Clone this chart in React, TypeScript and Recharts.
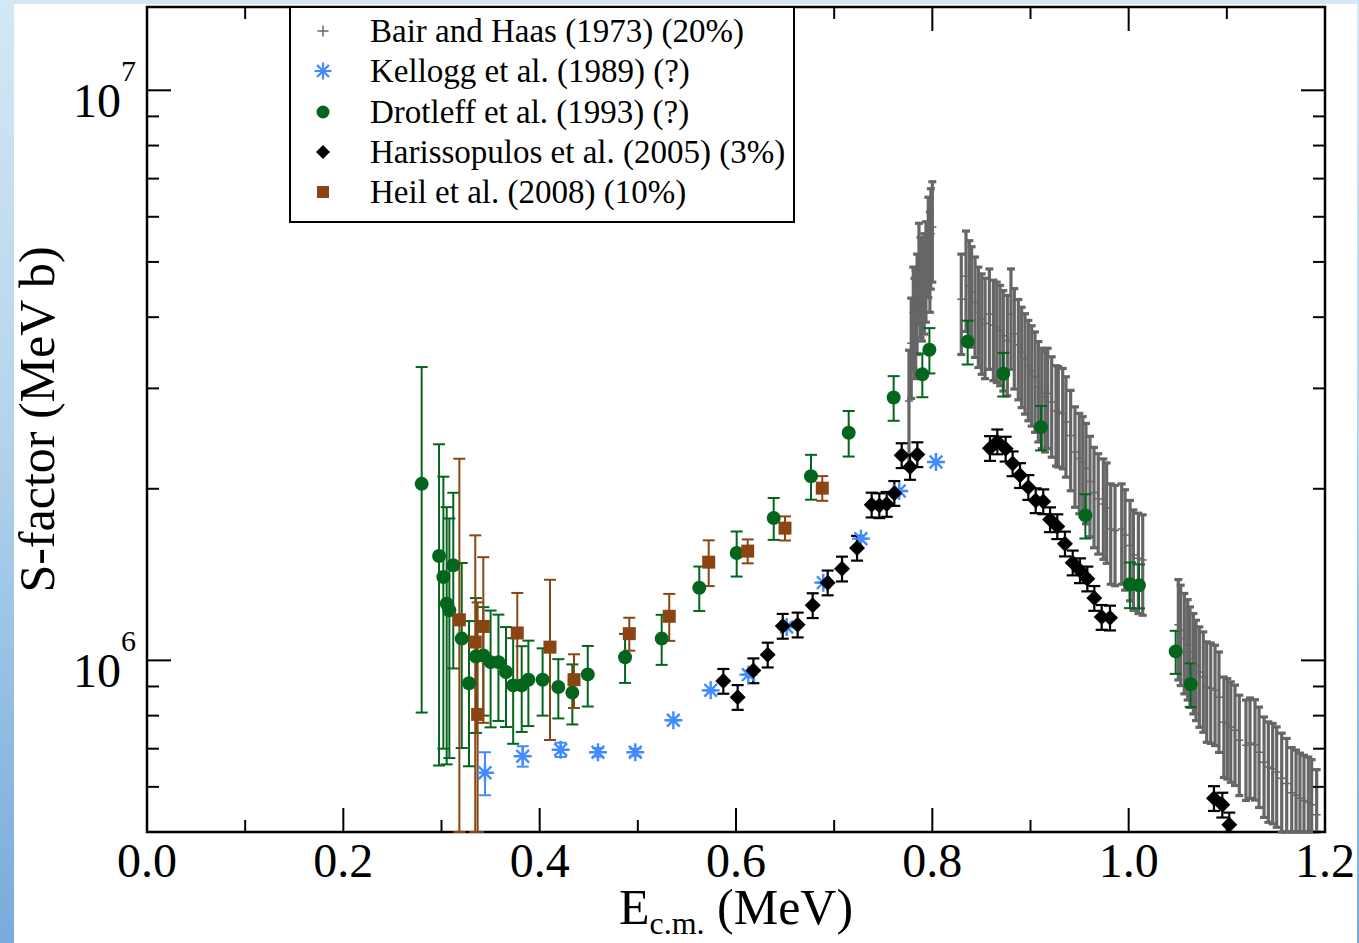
import React from 'react';
import { ScatterChart, Scatter, XAxis, YAxis, ErrorBar, ReferenceArea, Label } from 'recharts';

// ---------------- data ----------------
// Bair and Haas (1973), 20% uncertainty
const bairE = [
  0.7785, 0.7806, 0.7818, 0.783, 0.7845, 0.7864, 0.788, 0.7895, 0.7918, 0.7935, 0.7959, 0.7975, 0.7985, 0.8,
  0.8295, 0.8343, 0.8377, 0.84, 0.8435, 0.8469, 0.8503, 0.8537, 0.8581, 0.8622, 0.8656, 0.869, 0.8723, 0.8764,
  0.8801, 0.8835, 0.8876, 0.891, 0.8944, 0.8978, 0.9012, 0.9046, 0.908, 0.9114, 0.9148, 0.9175, 0.9216, 0.926,
  0.9283, 0.9328, 0.9361, 0.9409, 0.9453, 0.9497, 0.9532, 0.9565, 0.9606, 0.9647, 0.969, 0.9742, 0.9776, 0.9817,
  0.9861, 0.9929, 0.9963, 1.0014, 1.0048, 1.0099, 1.0143,
  1.0506, 1.053, 1.0567, 1.0601, 1.0625, 1.0659, 1.0686, 1.072, 1.076, 1.0795, 1.0836, 1.088, 1.092, 1.097,
  1.1005, 1.104, 1.1083, 1.1127, 1.1195, 1.1236, 1.1287, 1.1328, 1.1379, 1.1423, 1.1467, 1.1508, 1.1559, 1.161,
  1.1661, 1.1705, 1.1745, 1.1786, 1.183, 1.1864, 1.1915,
];
const bairS = [
  3.6e6, 4.08e6, 3.9e6, 4.03e6, 4.3e6, 4.87e6, 4.6e6, 4.54e6, 4.67e6, 4.9e6, 5.41e6, 5.1e6, 5.6e6, 5.76e6,
  4.3e6, 4.72e6, 4.54e6, 4.43e6, 4.25e6, 4.08e6, 3.97e6, 3.9e6, 4.05e6, 3.87e6, 3.84e6, 3.79e6, 3.71e6, 3.64e6,
  4.05e6, 3.74e6, 3.58e6, 3.47e6, 3.38e6, 3.29e6, 3.22e6, 3.14e6, 3.02e6, 2.94e6, 2.9e6, 2.94e6, 2.84e6, 2.74e6,
  2.73e6, 2.71e6, 2.62e6, 2.48e6, 2.32e6, 2.26e6, 2.23e6, 2.17e6, 2.06e6, 1.97e6, 1.92e6, 1.88e6, 1.85e6, 1.7e6,
  1.69e6, 1.7e6, 1.66e6, 1.59e6, 1.53e6, 1.51e6, 1.5e6,
  1.155e6, 1.129e6, 1.092e6, 1.065e6, 1.034e6, 1.007e6, 0.98e6, 0.954e6, 0.935e6, 0.898e6, 0.894e6, 0.886e6, 0.862e6, 0.779e6,
  0.774e6, 0.764e6, 0.754e6, 0.724e6, 0.71e6, 0.716e6, 0.711e6, 0.69e6, 0.663e6, 0.65e6, 0.646e6, 0.637e6, 0.621e6, 0.608e6,
  0.586e6, 0.58e6, 0.573e6, 0.568e6, 0.564e6, 0.558e6, 0.536e6,
];
const BAIR_REL_ERR = 0.2;
// one Bair point drawn with a wider bar
const bairWideE = [0.7762];
const bairWideS = [2.85e6];
const bairWideErr = [0.65e6];

// Kellogg et al. (1989)
const kelloggE = [0.3443, 0.3827, 0.4214, 0.4594, 0.4974, 0.5362, 0.5742, 0.6126, 0.6516, 0.6889, 0.7273, 0.7663, 0.8037];
const kelloggS = [0.635e6, 0.679e6, 0.697e6, 0.69e6, 0.69e6, 0.785e6, 0.886e6, 0.944e6, 1.144e6, 1.369e6, 1.635e6, 1.982e6, 2.228e6];
const kelloggErr = [0.055e6, 0.028e6, 0.02e6, 0.012e6, 0.01e6, 0, 0, 0, 0, 0, 0, 0, 0];

// Drotleff et al. (1993)
const drotleffE = [
  0.2798, 0.2975, 0.3019, 0.3053, 0.308, 0.312, 0.3206, 0.328, 0.3351, 0.3426, 0.35, 0.358, 0.3657, 0.373,
  0.3817, 0.3885, 0.403, 0.419, 0.4333, 0.449, 0.487, 0.5243, 0.5626, 0.6007, 0.6384, 0.6764, 0.7148, 0.7606,
  0.7898, 0.797, 0.836, 0.8723, 0.9107, 0.9559, 1.0013, 1.0105, 1.0479, 1.0632,
];
const drotleffS = [
  2.04e6, 1.524e6, 1.4e6, 1.257e6, 1.224e6, 1.468e6, 1.092e6, 0.912e6, 1.016e6, 1.02e6, 0.993e6, 0.993e6, 0.954e6, 0.904e6,
  0.904e6, 0.925e6, 0.925e6, 0.898e6, 0.878e6, 0.945e6, 1.013e6, 1.092e6, 1.341e6, 1.543e6, 1.777e6, 2.104e6, 2.508e6, 2.892e6,
  3.175e6, 3.507e6, 3.624e6, 3.183e6, 2.565e6, 1.796e6, 1.36e6, 1.354e6, 1.037e6, 0.908e6,
];
const drotleffErr = [
  1.23e6, 0.87e6, 0.7e6, 0.6e6, 0.55e6, 0.5e6, 0.39e6, 0.26e6, 0.27e6, 0.22e6, 0.23e6, 0.21e6, 0.19e6, 0.19e6,
  0.155e6, 0.158e6, 0.125e6, 0.107e6, 0.106e6, 0.115e6, 0.1e6, 0.11e6, 0.12e6, 0.14e6, 0.15e6, 0.19e6, 0.23e6, 0.26e6,
  0.28e6, 0.32e6, 0.32e6, 0.28e6, 0.23e6, 0.16e6, 0.125e6, 0.12e6, 0.09e6, 0.08e6,
];

// Harissopulos et al. (2005)
const harissE = [
  0.5871, 0.6017, 0.6177, 0.6323, 0.6476, 0.6628, 0.6781, 0.6934, 0.708, 0.7233, 0.7382, 0.746, 0.7535, 0.7613,
  0.7688, 0.7773, 0.7847, 0.8587, 0.8662, 0.8747, 0.8818, 0.8893, 0.8978, 0.9053, 0.913, 0.9199, 0.9273, 0.9351,
  0.943, 0.9504, 0.9579, 0.965, 0.9725, 0.981, 1.0869, 1.0954, 1.1025,
];
const harissS = [
  0.92e6, 0.862e6, 0.96e6, 1.023e6, 1.149e6, 1.155e6, 1.249e6, 1.369e6, 1.448e6, 1.575e6, 1.875e6, 1.87e6, 1.88e6, 1.965e6,
  2.289e6, 2.183e6, 2.298e6, 2.356e6, 2.42e6, 2.35e6, 2.215e6, 2.112e6, 2.013e6, 1.908e6, 1.9e6, 1.767e6, 1.718e6, 1.602e6,
  1.484e6, 1.438e6, 1.391e6, 1.286e6, 1.191e6, 1.188e6, 0.573e6, 0.558e6, 0.515e6,
];
const HARISS_REL_ERR = 0.05;

// Heil et al. (2008)
const heilE = [0.3182, 0.3344, 0.3368, 0.3426, 0.3772, 0.4105, 0.435, 0.4913, 0.532, 0.5722, 0.6119, 0.6499, 0.6879];
const heilS = [1.178e6, 1.077e6, 0.804e6, 1.147e6, 1.117e6, 1.055e6, 0.925e6, 1.114e6, 1.195e6, 1.487e6, 1.555e6, 1.706e6, 2.005e6];
const heilErr = [1.08e6, 0.58e6, 0.46e6, 0.37e6, 0.196e6, 0.33e6, 0.1e6, 0.074e6, 0.113e6, 0.137e6, 0.075e6, 0.083e6, 0.1e6];

// axes
const xTicks = [0, 0.1, 0.2, 0.3, 0.4, 0.5, 0.6, 0.7, 0.8, 0.9, 1.0, 1.1, 1.2];
const xMajor = [0, 0.2, 0.4, 0.6, 0.8, 1.0, 1.2];
const xMajorLabels = ['0.0', '0.2', '0.4', '0.6', '0.8', '1.0', '1.2'];
const yTicks = [5e5, 6e5, 7e5, 8e5, 9e5, 1e6, 2e6, 3e6, 4e6, 5e6, 6e6, 7e6, 8e6, 9e6, 1e7];
const yMajor = [1e6, 1e7];
const yMajorExp = ['6', '7'];
const X_DOMAIN = [0, 1.2];
const Y_DOMAIN = [5e5, 1.4e7];

const legendNames = [
  'Bair and Haas (1973) (20%)',
  'Kellogg et al. (1989) (?)',
  'Drotleff et al. (1993) (?)',
  'Harissopulos et al. (2005) (3%)',
  'Heil et al. (2008) (10%)',
];

// ---------------- styling ----------------
const FONT = '"Liberation Serif", "Times New Roman", Times, serif';
const GRAY = '#666666';
const BLUE = '#408cff';
const GREEN = '#03661c';
const BLACK = '#000000';
const BROWN = '#8b4513';

const CHART_W = 1359;
const CHART_H = 943;
const Y_AXIS_W = 100;
const X_AXIS_H = 100;
const MARGIN = { top: 7, right: 34, bottom: 11, left: 47 };
const PLOT_W = CHART_W - MARGIN.left - MARGIN.right - Y_AXIS_W;
const PLOT_H = CHART_H - MARGIN.top - MARGIN.bottom - X_AXIS_H;

// error bars are cut at the lower edge of the frame, as in the original plot
const pts = (E: number[], S: number[], err: number[]) =>
  E.map((x, i) => ({ x, y: S[i], err: [Math.min(err[i], S[i] - Y_DOMAIN[0]), err[i]] }));

const bairData = [
  ...pts(bairE, bairS, bairS.map((s) => s * BAIR_REL_ERR)),
  ...pts(bairWideE, bairWideS, bairWideErr),
];
const kelloggData = pts(kelloggE, kelloggS, kelloggErr);
const drotleffData = pts(drotleffE, drotleffS, drotleffErr);
const harissData = pts(harissE, harissS, harissS.map((s) => s * HARISS_REL_ERR));
const heilData = pts(heilE, heilS, heilErr);

// ---------------- markers ----------------
const plusPath = (cx: number, cy: number, r: number) => `M${cx - r},${cy}H${cx + r}M${cx},${cy - r}V${cy + r}`;
const asterPath = (cx: number, cy: number, r: number) => {
  const d = r * 0.7071;
  return `M${cx - r},${cy}H${cx + r}M${cx},${cy - r}V${cy + r}M${cx - d},${cy - d}L${cx + d},${cy + d}M${cx - d},${cy + d}L${cx + d},${cy - d}`;
};
const diamondPath = (cx: number, cy: number, r: number) => `M${cx},${cy - r}L${cx + r},${cy}L${cx},${cy + r}L${cx - r},${cy}Z`;

const PlusShape = (p: any) => <path d={plusPath(p.cx, p.cy, 4)} stroke={GRAY} strokeWidth={1.5} fill="none" />;
const AsterShape = (p: any) => <path d={asterPath(p.cx, p.cy, 9)} stroke={BLUE} strokeWidth={2.4} fill="none" />;
const CircleShape = (p: any) => <circle cx={p.cx} cy={p.cy} r={7} fill={GREEN} />;
const DiamondShape = (p: any) => <path d={diamondPath(p.cx, p.cy, 8)} fill={BLACK} />;
const SquareShape = (p: any) => <rect x={p.cx - 6.5} y={p.cy - 6.5} width={13} height={13} fill={BROWN} />;

// ---------------- axes ----------------
const XTick = (props: any) => {
  const { x, y, payload } = props;
  const v = payload.value as number;
  const mi = xMajor.findIndex((m) => Math.abs(m - v) < 1e-6);
  const len = mi >= 0 ? 24 : 12;
  return (
    <g>
      <line x1={x} y1={y} x2={x} y2={y - len} stroke="#000" strokeWidth={2} />
      <line x1={x} y1={y - PLOT_H} x2={x} y2={y - PLOT_H + len} stroke="#000" strokeWidth={2} />
      {mi >= 0 && (
        <text x={x} y={y + 45} textAnchor="middle" fontFamily={FONT} fontSize={48} fill="#000">
          {xMajorLabels[mi]}
        </text>
      )}
    </g>
  );
};

const YTick = (props: any) => {
  const { x, y, payload } = props;
  const v = payload.value as number;
  const mi = yMajor.findIndex((m) => Math.abs(m - v) / m < 1e-6);
  const len = mi >= 0 ? 24 : 12;
  return (
    <g>
      <line x1={x} y1={y} x2={x + len} y2={y} stroke="#000" strokeWidth={2} />
      <line x1={x + PLOT_W} y1={y} x2={x + PLOT_W - len} y2={y} stroke="#000" strokeWidth={2} />
      {mi >= 0 && (
        <text x={x - 11} y={y + 27} textAnchor="end" fontFamily={FONT} fontSize={48} fill="#000">
          10
          <tspan fontSize={30} dy={-36}>{yMajorExp[mi]}</tspan>
        </text>
      )}
    </g>
  );
};

const XTitle = (props: any) => {
  const vb = props.viewBox || { x: MARGIN.left + Y_AXIS_W, y: MARGIN.top + PLOT_H, width: PLOT_W, height: X_AXIS_H };
  const cx = vb.x + vb.width / 2;
  const y = vb.y + 92;
  return (
    <text x={cx} y={y} textAnchor="middle" fontFamily={FONT} fontSize={50} fill="#000" style={{ whiteSpace: 'pre' }}>
      <tspan>E</tspan>
      <tspan fontSize={32} dy={10}>c.m.</tspan>
      <tspan dy={-10}>{' (MeV)'}</tspan>
    </text>
  );
};

const YTitle = (props: any) => {
  const vb = props.viewBox || { x: MARGIN.left, y: MARGIN.top, width: Y_AXIS_W, height: PLOT_H };
  const cy = vb.y + vb.height / 2;
  const x = 54;
  return (
    <text x={x} y={cy} transform={`rotate(-90 ${x} ${cy})`} textAnchor="middle" fontFamily={FONT} fontSize={50} fill="#000">
      S-factor (MeV b)
    </text>
  );
};

// ---------------- legend ----------------
const legendSymbols = [
  <path d={plusPath(12, 12, 5.5)} stroke={GRAY} strokeWidth={1.5} fill="none" />,
  <path d={asterPath(12, 12, 8.5)} stroke={BLUE} strokeWidth={2.2} fill="none" />,
  <circle cx={12} cy={12} r={6.5} fill={GREEN} />,
  <path d={diamondPath(12, 12, 7)} fill={BLACK} />,
  <rect x={6} y={6} width={12} height={12} fill={BROWN} />,
];

const LegendBox = () => (
  <div
    style={{
      position: 'absolute',
      left: 289,
      top: 6,
      width: 506,
      height: 217,
      border: '2px solid #000',
      boxSizing: 'border-box',
      background: '#fff',
    }}
  >
    {legendNames.map((name, i) => (
      <div
        key={name}
        style={{ position: 'absolute', left: 0, top: 25 + i * 40.3 - 2 - 20, height: 40, width: 500 }}
      >
        <svg width={24} height={24} style={{ position: 'absolute', left: 34 - 2 - 12, top: 8 }}>
          {legendSymbols[i]}
        </svg>
        <div
          style={{
            position: 'absolute',
            left: 81 - 2,
            top: 0,
            height: 40,
            lineHeight: '40px',
            fontFamily: FONT,
            fontSize: 33,
            color: '#000',
            whiteSpace: 'nowrap',
          }}
        >
          {name}
        </div>
      </div>
    ))}
  </div>
);

// ---------------- app ----------------
export default function App() {
  return (
    <div
      style={{
        position: 'absolute',
        left: 0,
        top: 0,
        width: CHART_W,
        height: CHART_H,
        overflow: 'hidden',
        background: 'linear-gradient(to bottom, #d3e8f4 0%, #b4d4ec 45%, #78abdc 100%)',
      }}
    >
      <div style={{ position: 'absolute', left: 14, top: 4, right: 2, bottom: 0, background: '#fff' }} />
      <div style={{ position: 'absolute', left: 0, top: 0 }}>
        <ScatterChart width={CHART_W} height={CHART_H} margin={MARGIN}>
          <XAxis
            type="number"
            dataKey="x"
            domain={X_DOMAIN}
            allowDataOverflow
            ticks={xTicks}
            interval={0}
            tick={<XTick />}
            tickLine={false}
            axisLine={false}
            tickSize={0}
            tickMargin={0}
            height={X_AXIS_H}
          >
            <Label content={<XTitle />} />
          </XAxis>
          <YAxis
            type="number"
            dataKey="y"
            scale="log"
            domain={Y_DOMAIN}
            allowDataOverflow
            ticks={yTicks}
            interval={0}
            tick={<YTick />}
            tickLine={false}
            axisLine={false}
            tickSize={0}
            tickMargin={0}
            width={Y_AXIS_W}
          >
            <Label content={<YTitle />} />
          </YAxis>
          <Scatter name={legendNames[0]} data={bairData} shape={PlusShape} isAnimationActive={false}>
            <ErrorBar dataKey="err" direction="y" width={4} stroke={GRAY} strokeWidth={3.2} />
          </Scatter>
          <Scatter name={legendNames[1]} data={kelloggData} shape={AsterShape} isAnimationActive={false}>
            <ErrorBar dataKey="err" direction="y" width={6} stroke={BLUE} strokeWidth={2} />
          </Scatter>
          <Scatter name={legendNames[2]} data={drotleffData} shape={CircleShape} isAnimationActive={false}>
            <ErrorBar dataKey="err" direction="y" width={6} stroke={GREEN} strokeWidth={2} />
          </Scatter>
          <Scatter name={legendNames[3]} data={harissData} shape={DiamondShape} isAnimationActive={false}>
            <ErrorBar dataKey="err" direction="y" width={6} stroke={BLACK} strokeWidth={2.2} />
          </Scatter>
          <Scatter name={legendNames[4]} data={heilData} shape={SquareShape} isAnimationActive={false}>
            <ErrorBar dataKey="err" direction="y" width={6} stroke={BROWN} strokeWidth={2} />
          </Scatter>
          <ReferenceArea
            x1={X_DOMAIN[0]}
            x2={X_DOMAIN[1]}
            y1={Y_DOMAIN[0]}
            y2={Y_DOMAIN[1]}
            fill="none"
            stroke="#000"
            strokeWidth={2.5}
            ifOverflow="visible"
          />
        </ScatterChart>
      </div>
      <LegendBox />
    </div>
  );
}
